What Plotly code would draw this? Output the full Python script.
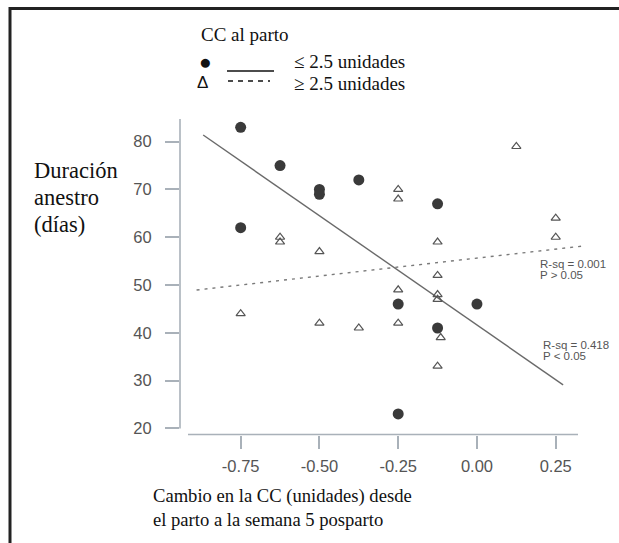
import plotly.graph_objects as go

# ---- data ----
low_x = [-0.75, -0.75, -0.625, -0.5, -0.5, -0.375, -0.125, -0.25, 0.0, -0.125, -0.25]
low_y = [83, 62, 75, 70, 69, 72, 67, 46, 46, 41, 23]

high_x = [-0.625, -0.625, -0.5, -0.75, -0.5, -0.375, -0.25, -0.25, -0.125, 0.125,
          0.25, 0.25, -0.125, -0.25, -0.125, -0.125, -0.25, -0.115, -0.125]
high_y = [60, 59, 57, 44, 42, 41, 70, 68, 59, 79,
          64, 60, 52, 49, 48, 47, 42, 39, 33]

fit_low_x = [-0.869, 0.2735]
fit_low_y = [81.4, 29.1]
fit_high_x = [-0.89, 0.342]
fit_high_y = [48.95, 58.2]

x_ticks = [-0.75, -0.50, -0.25, 0.00, 0.25]
x_tick_labels = ["-0.75", "-0.50", "-0.25", "0.00", "0.25"]
y_ticks = [20, 30, 40, 50, 60, 70, 80]

# ---- layout geometry ----
W, H = 619, 543
L, R, T, B = 180, 590, 119, 435


def px(xp):
    return (xp - L) / (R - L)


def py(yp):
    return (B - yp) / (B - T)


AXC = "#a9b1b9"
PTC = "#3a3a3a"
TXT = "#555555"
SERIF = "Liberation Serif, Times New Roman, serif"
SANS = "Liberation Sans, Arial, sans-serif"

fig = go.Figure()

fig.add_trace(go.Scatter(x=fit_low_x, y=fit_low_y, mode="lines",
                         line=dict(color="#6a6a6a", width=1.4), showlegend=False))
fig.add_trace(go.Scatter(x=fit_high_x, y=fit_high_y, mode="lines",
                         line=dict(color="#7a7a7a", width=1.4, dash="3px,5px"), showlegend=False))
fig.add_trace(go.Scatter(x=high_x, y=high_y, mode="markers",
                         marker=dict(symbol="triangle-up-open", size=8,
                                     color="#555555", line=dict(width=1.2)),
                         showlegend=False))
fig.add_trace(go.Scatter(x=low_x, y=low_y, mode="markers",
                         marker=dict(symbol="circle", size=11, color=PTC,
                                     line=dict(width=0)),
                         showlegend=False))

shapes = []
# axis lines (detached, SPSS style)
shapes.append(dict(type="line", xref="paper", yref="paper",
                   x0=0, x1=0, y0=py(428.5), y1=1, line=dict(color=AXC, width=1.6)))
shapes.append(dict(type="line", xref="paper", yref="paper",
                   x0=px(188), x1=px(578), y0=py(434.5), y1=py(434.5),
                   line=dict(color=AXC, width=1.6)))
# frame
shapes.append(dict(type="line", xref="paper", yref="paper",
                   x0=px(9), x1=px(619), y0=py(8.5), y1=py(8.5),
                   line=dict(color="#222222", width=3)))
shapes.append(dict(type="line", xref="paper", yref="paper",
                   x0=px(10), x1=px(10), y0=py(7), y1=py(543),
                   line=dict(color="#222222", width=3)))
# legend line samples
shapes.append(dict(type="line", xref="paper", yref="paper",
                   x0=px(227), x1=px(274), y0=py(71), y1=py(71),
                   line=dict(color="#111111", width=1.3)))
shapes.append(dict(type="line", xref="paper", yref="paper",
                   x0=px(228), x1=px(270), y0=py(81), y1=py(81),
                   line=dict(color="#111111", width=1.5, dash="5px,5px")))

ann = []


def text(x, y, s, size, font=SERIF, color="#111111", xanchor="left"):
    ann.append(dict(xref="paper", yref="paper", x=px(x), y=py(y), text=s,
                    showarrow=False, xanchor=xanchor, yanchor="middle",
                    font=dict(family=font, size=size, color=color), align="left"))


text(199, 35, "CC al parto", 19)
text(205, 62, "●", 21, xanchor="center")
text(202, 82, "Δ", 17, font=SANS, xanchor="center")
text(292, 62, "≤ 2.5 unidades", 19)
text(292, 83, "≥ 2.5 unidades", 19)

text(32, 170, "Duración", 22.5)
text(32, 197, "anestro", 22.5)
text(32, 224, "(días)", 22.5)

text(151, 496, "Cambio en la CC (unidades) desde", 18.6)
text(151, 519, "el parto a la semana 5 posparto", 18.6)

text(538, 264, "R-sq = 0.001", 11.5, font=SANS, color=TXT)
text(538, 275, "P > 0.05", 11.5, font=SANS, color=TXT)
text(541, 345, "R-sq = 0.418", 11.5, font=SANS, color=TXT)
text(541, 356, "P < 0.05", 11.5, font=SANS, color=TXT)

x0 = -0.75 - (240.7 - L) / 315.2
x1 = 0.25 + (R - 555.7) / 315.2
y0 = 20 - (B - 428.3) / 4.777
y1 = 80 + (141.7 - T) / 4.777

fig.update_layout(
    width=W, height=H,
    margin=dict(l=L, r=W - R, t=T, b=H - B, pad=0),
    paper_bgcolor="white", plot_bgcolor="white",
    showlegend=False, hovermode=False,
    shapes=shapes, annotations=ann,
    xaxis=dict(range=[x0, x1], tickvals=x_ticks, ticktext=x_tick_labels,
               showgrid=False, zeroline=False, showline=False,
               ticks="outside", ticklen=13, tickwidth=1.6, tickcolor=AXC,
               tickfont=dict(family=SANS, size=16.5, color=TXT),
               ticklabelstandoff=3),
    yaxis=dict(range=[y0, y1], tickvals=y_ticks,
               showgrid=False, zeroline=False, showline=False,
               ticks="outside", ticklen=14, tickwidth=1.6, tickcolor=AXC,
               tickfont=dict(family=SANS, size=16.5, color=TXT),
               ticklabelstandoff=10),
)

fig.write_html("out.html", config={"displayModeBar": False},
               post_script="document.body.style.margin='0';document.body.style.overflow='hidden';")
